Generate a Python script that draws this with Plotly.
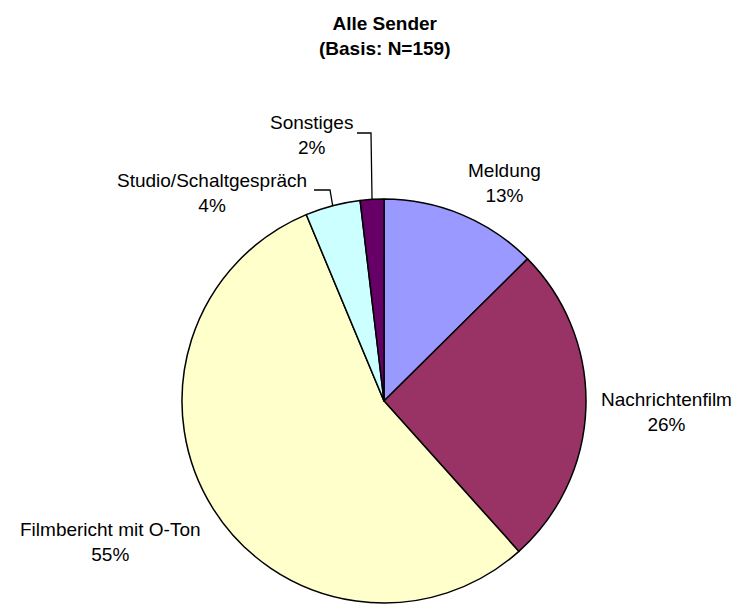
import math
import plotly.graph_objects as go

# Beitragsformen, alle Sender (N=159)
categories = ["Meldung", "Nachrichtenfilm", "Filmbericht mit O-Ton",
              "Studio/Schaltgespräch", "Sonstiges"]
counts = [20, 41, 88, 7, 3]
colors = ["#9999FF", "#993366", "#FFFFCC", "#CCFFFF", "#660066"]
title_lines = ["Alle Sender", "(Basis: N=159)"]

W, H = 736, 604
CX, CY, R = 384, 401, 202          # pie centre and radius in pixels
FONT = "Liberation Sans, Arial, sans-serif"
LABEL_SIZE = 19

total = sum(counts)
percents = [round(c / total * 100) for c in counts]


def px(x):
    return x / W


def py(y):
    return 1 - y / H


def edge_point(i):
    """Pixel point on the rim at the middle of slice i (clockwise from 12 o'clock)."""
    before = sum(counts[:i])
    frac = (before + counts[i] / 2) / total
    a = 2 * math.pi * frac
    return CX + R * math.sin(a), CY - R * math.cos(a)


fig = go.Figure(go.Pie(
    labels=categories,
    values=counts,
    sort=False,
    direction="clockwise",
    rotation=0,
    textinfo="none",
    hoverinfo="label+percent",
    marker=dict(colors=colors, line=dict(color="#000000", width=1.5)),
    domain=dict(x=[px(CX - R), px(CX + R)], y=[py(CY + R), py(CY - R)]),
    showlegend=False,
))

# label centres (pixels) for each slice
label_pos = {
    "Meldung": (504, 183),
    "Nachrichtenfilm": (666, 412),
    "Filmbericht mit O-Ton": (110, 542),
    "Studio/Schaltgespräch": (212, 193),
    "Sonstiges": (311, 135),
}

annotations = []
for name, pct in zip(categories, percents):
    x, y = label_pos[name]
    annotations.append(dict(
        x=px(x), y=py(y), xref="paper", yref="paper",
        text=f"{name}<br>{pct}%", showarrow=False,
        xanchor="center", yanchor="middle", align="center",
        font=dict(family=FONT, size=LABEL_SIZE, color="#000000"),
    ))

annotations.append(dict(
    x=px(384), y=py(36), xref="paper", yref="paper",
    text="<b>" + "<br>".join(title_lines) + "</b>", showarrow=False,
    xanchor="center", yanchor="middle", align="center",
    font=dict(family=FONT, size=19, color="#000000"),
))

# elbow leader lines for the two small slices
shapes = []
leaders = {
    "Sonstiges": [(357, 133), (371, 133)],
    "Studio/Schaltgespräch": [(314, 190), (330, 190)],
}
for name, pts in leaders.items():
    ex, ey = edge_point(categories.index(name))
    path_pts = pts + [(ex, ey)]
    d = "M " + " L ".join(f"{px(x)},{py(y)}" for x, y in path_pts)
    shapes.append(dict(type="path", path=d, xref="paper", yref="paper",
                       line=dict(color="#000000", width=1.3)))

fig.update_layout(
    width=W, height=H,
    margin=dict(l=0, r=0, t=0, b=0),
    paper_bgcolor="#FFFFFF",
    plot_bgcolor="#FFFFFF",
    annotations=annotations,
    shapes=shapes,
)

fig.write_html("out.html")
